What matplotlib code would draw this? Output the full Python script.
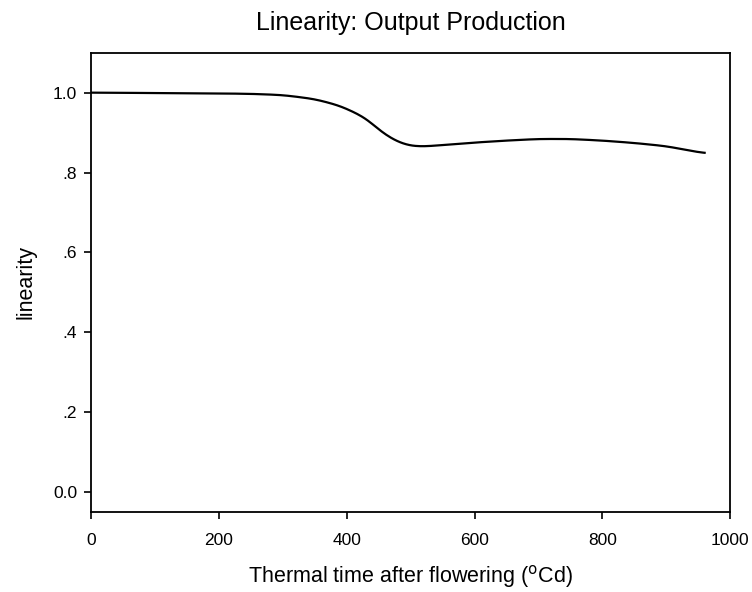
import matplotlib.pyplot as plt
import numpy as np

plt.rcParams['font.family'] = ['Liberation Sans', 'DejaVu Sans']

# thermal time (oCd) and linearity of output production
thermal_time = [0, 100, 200, 250, 300, 350, 390, 430, 455, 480, 500, 520,
                560, 600, 650, 700, 750, 800, 850, 900, 960]
linearity = [1.0, 0.999, 0.998, 0.997, 0.994, 0.984, 0.967, 0.937, 0.90,
             0.876, 0.866, 0.865, 0.870, 0.875, 0.880, 0.884, 0.884, 0.880,
             0.874, 0.866, 0.848]

y_ticks = [0.0, 0.2, 0.4, 0.6, 0.8, 1.0]
y_tick_labels = ['0.0', '.2', '.4', '.6', '.8', '1.0']
x_ticks = [0, 200, 400, 600, 800, 1000]

fig = plt.figure(figsize=(7.52, 5.92), dpi=100)
ax = fig.add_axes([0.121, 0.135, 0.850, 0.776])

# gaussian smoothing between the read points
xs = np.linspace(thermal_time[0], thermal_time[-1], 400)
ys = np.interp(xs, thermal_time, linearity)
k = np.arange(-15, 16)
kernel = np.exp(-0.5 * (k / 5.0) ** 2)
kernel /= kernel.sum()
ys_s = np.convolve(np.pad(ys, 15, mode='edge'), kernel, mode='valid')
ax.plot(xs, ys_s, color='black', linewidth=1.6)

ax.set_xlim(0, 1000)
ax.set_ylim(-0.05, 1.1)
ax.set_xticks(x_ticks)
ax.set_yticks(y_ticks)
ax.set_yticklabels(y_tick_labels)
ax.tick_params(direction='out', length=5, width=1.2, labelsize=12.5, pad=5)
ax.tick_params(axis='x', pad=10)
for s in ax.spines.values():
    s.set_linewidth(1.3)

ax.set_title('Linearity: Output Production', fontsize=18, pad=16)
ax.set_xlabel('Thermal time after flowering ($^{\\rm o}$Cd)', fontsize=15.5, labelpad=11)
ax.set_ylabel('linearity', fontsize=15.5, labelpad=12)

fig.savefig('out.png', dpi=100)
